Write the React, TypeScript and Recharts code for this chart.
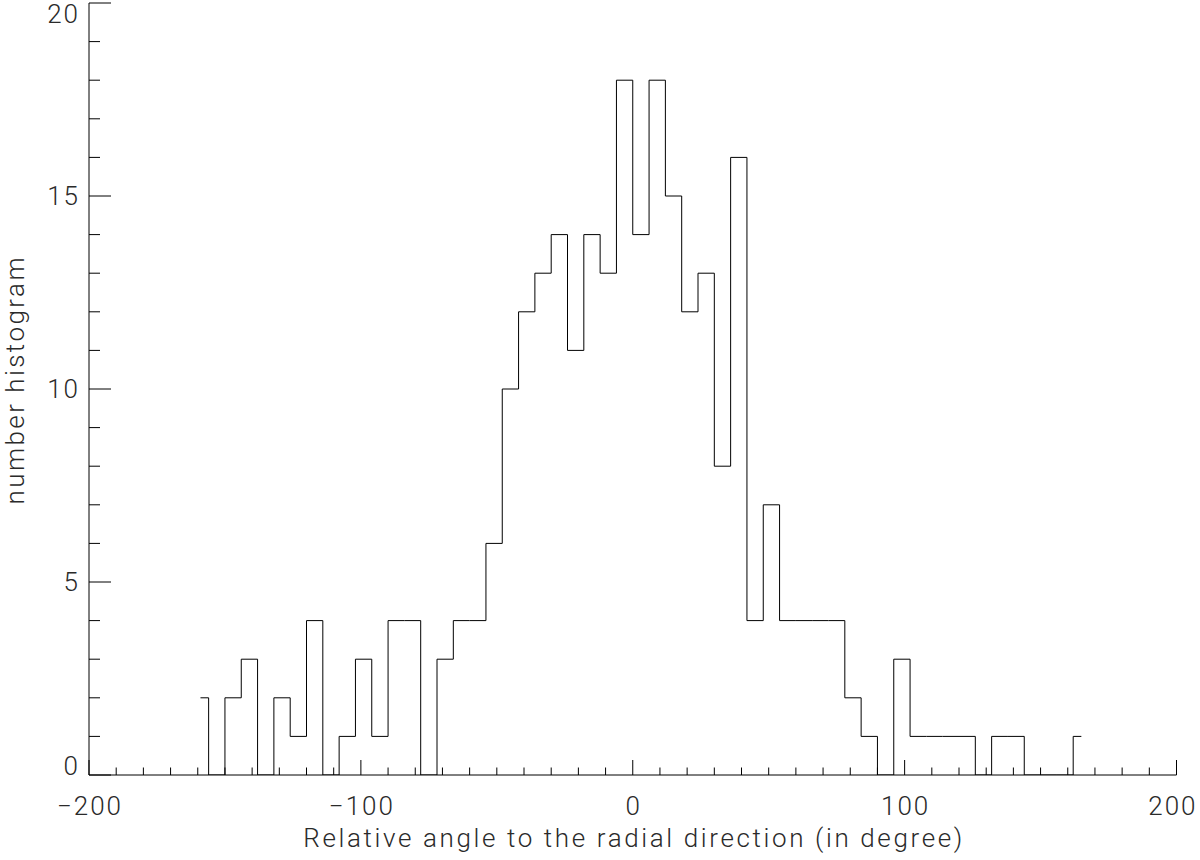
import React from 'react';
import { LineChart, Line, XAxis, YAxis } from 'recharts';

// Bin centres (degrees) and counts per bin
const angleCenters = [
  -159, -153, -147, -141, -135, -129, -123, -117, -111, -105,
  -99, -93, -87, -81, -75, -69, -63, -57, -51, -45,
  -39, -33, -27, -21, -15, -9, -3, 3, 9, 15,
  21, 27, 33, 39, 45, 51, 57, 63, 69, 75,
  81, 87, 93, 99, 105, 111, 117, 123, 129, 135,
  141, 147, 153, 159, 165,
];
const counts = [
  2, 0, 2, 3, 0, 2, 1, 4, 0, 1,
  3, 1, 4, 4, 0, 3, 4, 4, 6, 10,
  12, 13, 14, 11, 14, 13, 18, 14, 18, 15,
  12, 13, 8, 16, 4, 7, 4, 4, 4, 4,
  2, 1, 0, 3, 1, 1, 1, 1, 0, 1,
  1, 0, 0, 0, 1,
];

const xTicks = [
  -200, -190, -180, -170, -160, -150, -140, -130, -120, -110,
  -100, -90, -80, -70, -60, -50, -40, -30, -20, -10,
  0, 10, 20, 30, 40, 50, 60, 70, 80, 90,
  100, 110, 120, 130, 140, 150, 160, 170, 180, 190, 200,
];
const xMajorTicks = [-200, -100, 0, 100, 200];
const yTicks = [0, 1, 2, 3, 4, 5, 6, 7, 8, 9, 10, 11, 12, 13, 14, 15, 16, 17, 18, 19, 20];
const yMajorTicks = [0, 5, 10, 15, 20];

const xTitle = 'Relative angle to the radial direction (in degree)';
const yTitle = 'number histogram';

const data = angleCenters.map((a, i) => ({ angle: a, count: counts[i] }));

const FONT = 'Roboto, "DejaVu Sans", sans-serif';
const TEXT_COLOR = '#2a2a2a';
const LINE_COLOR = '#000';

const fmt = (v: number) => (v < 0 ? '\u2212' + Math.abs(v) : String(v));

const BottomTick = (props: any) => {
  const { x, y, payload } = props;
  const major = xMajorTicks.includes(payload.value);
  const len = major ? 15 : 7.5;
  const label = fmt(payload.value);
  const isLast = payload.value === 200;
  return (
    <g>
      <line x1={x} y1={y} x2={x} y2={y - len} stroke={LINE_COLOR} strokeWidth={1} />
      {major && (
        <text x={isLast ? x + 21 : x + 1} y={y + 40} textAnchor={isLast ? 'end' : 'middle'} fontFamily={FONT}
          fontWeight={300} fontSize={26} letterSpacing={2} fill={TEXT_COLOR}>
          {label}
        </text>
      )}
    </g>
  );
};

const TopTick = (props: any) => {
  const { x, y, payload } = props;
  const major = xMajorTicks.includes(payload.value);
  const len = major ? 15 : 7.5;
  return <line x1={x} y1={y} x2={x} y2={y + len} stroke={LINE_COLOR} strokeWidth={1} />;
};

const LeftTick = (props: any) => {
  const { x, y, payload } = props;
  const major = yMajorTicks.includes(payload.value);
  const len = major ? 22 : 11;
  let dy = 9;
  if (payload.value === 0) dy = 0;
  if (payload.value === 20) dy = 20;
  return (
    <g>
      <line x1={x} y1={y} x2={x + len} y2={y} stroke={LINE_COLOR} strokeWidth={1} />
      {major && (
        <text x={x - 9} y={y + dy} textAnchor="end" fontFamily={FONT} fontWeight={300} fontSize={26}
          letterSpacing={2} fill={TEXT_COLOR}>
          {fmt(payload.value)}
        </text>
      )}
    </g>
  );
};

const RightTick = (props: any) => {
  const { x, y, payload } = props;
  const major = yMajorTicks.includes(payload.value);
  const len = major ? 22 : 11;
  return <line x1={x} y1={y} x2={x - len} y2={y} stroke={LINE_COLOR} strokeWidth={1} />;
};

const XTitle = (props: any) => {
  const vb = props.viewBox || {};
  const cx = vb.x + vb.width / 2;
  return (
    <text x={cx} y={vb.y + 72} textAnchor="middle" fontFamily={FONT} fontWeight={300} fontSize={26}
      fill={TEXT_COLOR} textLength={659} lengthAdjust="spacing">
      {xTitle}
    </text>
  );
};

const YTitle = (props: any) => {
  const vb = props.viewBox || {};
  const cy = vb.y + vb.height / 2 - 8;
  const bx = 24;
  return (
    <text x={bx} y={cy} transform={`rotate(-90 ${bx} ${cy})`} textAnchor="middle" fontFamily={FONT}
      fontWeight={300} fontSize={26} fill={TEXT_COLOR} textLength={247} lengthAdjust="spacing">
      {yTitle}
    </text>
  );
};

export default function App() {
  return (
    <div style={{ position: 'absolute', left: 0, top: 0, width: 1200, height: 860, background: '#fff' }}>
      <LineChart width={1200} height={860} data={data} margin={{ top: 3, right: 23.5, bottom: 0, left: 0 }}>
        <XAxis
          dataKey="angle"
          type="number"
          domain={[-200, 200]}
          allowDataOverflow
          ticks={xTicks}
          interval={0}
          tickSize={0}
          tickMargin={0}
          tickLine={false}
          tick={<BottomTick />}
          height={85}
          axisLine={{ stroke: LINE_COLOR, strokeWidth: 1 }}
          label={<XTitle />}
        />
        <XAxis
          xAxisId="top"
          orientation="top"
          dataKey="angle"
          type="number"
          domain={[-200, 200]}
          allowDataOverflow
          ticks={xTicks}
          interval={0}
          tickSize={0}
          tickMargin={0}
          tickLine={false}
          tick={<TopTick />}
          height={0}
          axisLine={{ stroke: LINE_COLOR, strokeWidth: 1 }}
        />
        <YAxis
          type="number"
          domain={[0, 20]}
          allowDataOverflow
          ticks={yTicks}
          interval={0}
          tickSize={0}
          tickMargin={0}
          tickLine={false}
          tick={<LeftTick />}
          width={89}
          axisLine={{ stroke: LINE_COLOR, strokeWidth: 1 }}
          label={<YTitle />}
        />
        <YAxis
          yAxisId="right"
          orientation="right"
          type="number"
          domain={[0, 20]}
          allowDataOverflow
          ticks={yTicks}
          interval={0}
          tickSize={0}
          tickMargin={0}
          tickLine={false}
          tick={<RightTick />}
          width={0}
          axisLine={{ stroke: LINE_COLOR, strokeWidth: 1 }}
        />
        <Line
          type="step"
          dataKey="count"
          stroke={LINE_COLOR}
          strokeWidth={1}
          dot={false}
          activeDot={false}
          isAnimationActive={false}
        />
      </LineChart>
    </div>
  );
}
